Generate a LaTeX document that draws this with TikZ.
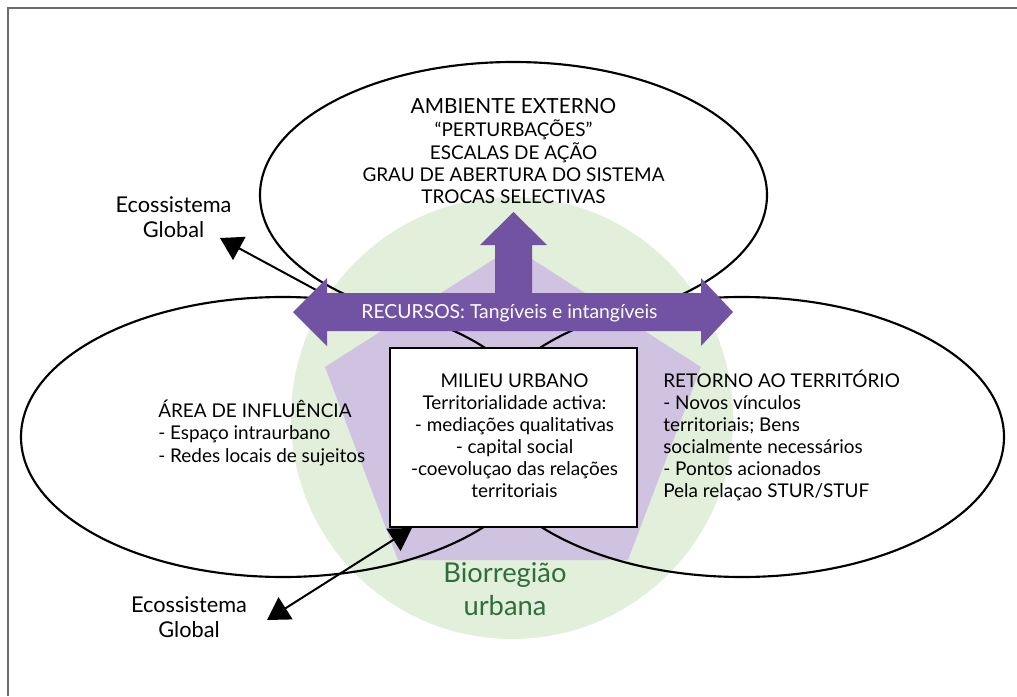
\documentclass[tikz,border=0pt]{standalone}
\usepackage{fontspec}
\setmainfont{Lato}
\usetikzlibrary{arrows.meta}
\definecolor{bgreen}{HTML}{E2EFDA}
\definecolor{lilac}{HTML}{D0C3E1}
\definecolor{purp}{HTML}{7253A3}
\definecolor{dgreen}{HTML}{2E6E3A}
\definecolor{framegray}{HTML}{6B6B6B}
\newcommand\myst{\rule{0pt}{14pt}}
\newcommand\mybigst{\rule{0pt}{18pt}}
\begin{document}
\begin{tikzpicture}[x=0.75pt,y=-0.75pt,
  oval/.style={draw=black, line width=1.6pt},
  txt/.style={inner sep=0pt, font=\fontsize{14.2}{16.6}\selectfont},
  ecotxt/.style={inner sep=0pt, anchor=north, align=center, font=\fontsize{16.3}{18.75}\selectfont},
  blackarrow/.style={draw=black, line width=1.5pt, -{Triangle[length=16.5pt,width=19.5pt]}},
  dblarrow/.style={draw=black, line width=1.5pt, {Triangle[length=16.5pt,width=19.5pt]}-{Triangle[length=16.5pt,width=19.5pt]}},
]
\useasboundingbox (0,0) rectangle (1017,696);
\draw[framegray, line width=1.2pt] (8,696) -- (8,8) -- (1017,8);
% bioregion circle and pentagon
\fill[bgreen] (512,418) circle [radius=221];
\fill[lilac] (513,247) -- (701,367) -- (628,560) -- (398,560) -- (325,367) -- cycle;
% ellipses
\draw[oval] (513.5,195) ellipse [x radius=253.5, y radius=133];
\draw[oval] (283,437) ellipse [x radius=262, y radius=140];
\draw[oval] (742,437) ellipse [x radius=262, y radius=140];
% black arrows
\coordinate (a1s) at (318,291);
\coordinate (a1t) at (220,238);
\coordinate (a2s) at (267,620);
\coordinate (a2t) at (412,528);
\draw[blackarrow] (a1s) -- (a1t);
\draw[dblarrow] (a2s) -- (a2t);
% purple resources arrow
\fill[purp] (293,312) -- (327,278) -- (327,293) -- (495,293) -- (495,245) -- (480,245)
  -- (513.5,212) -- (547,245) -- (532,245) -- (532,293) -- (701,293) -- (701,278)
  -- (733,312) -- (701,346) -- (701,331) -- (327,331) -- (327,346) -- cycle;
\node[txt, anchor=base, text=white, font=\fontsize{14.5}{16.6}\selectfont] (rec) at (509.5,318) {RECURSOS: Tangíveis e intangíveis};
% milieu box
\node[draw=black, line width=1.8pt, fill=white, minimum width=185.25pt, minimum height=134.25pt, inner sep=0pt] (milieu) at (513.5,437.5) {};
\node[txt, anchor=north, align=center] (miltxt) at (514.5,368.3) {\myst MILIEU URBANO\\Territorialidade activa:\\- mediações qualitativas\\- capital social\\-coevoluçao das relações\\territoriais};
% texts
\node[txt, anchor=north, align=center, font=\fontsize{14.2}{16.7}\selectfont] (amb) at (513.5,94.3) {\myst{\fontsize{15.6}{16.7}\selectfont AMBIENTE EXTERNO}\\[1pt]“PERTURBAÇÕES”\\ESCALAS DE AÇÃO\\GRAU DE ABERTURA DO SISTEMA\\TROCAS SELECTIVAS};
\node[txt, anchor=north west, align=left, font=\fontsize{14.2}{16.9}\selectfont] (area) at (158,398.3) {\myst ÁREA DE INFLUÊNCIA\\- Espaço intraurbano\\- Redes locais de sujeitos};
\node[txt, anchor=north west, align=left, font=\fontsize{14.2}{16.5}\selectfont] (ret) at (663,368.3) {\myst RETORNO AO TERRITÓRIO\\- Novos vínculos\\territoriais; Bens\\socialmente necessários\\- Pontos acionados\\Pela relaçao STUR/STUF};
\node[ecotxt] (eco1) at (173.5,193.3) {\myst Ecossistema\\Global};
\node[ecotxt] (eco2) at (189,593.3) {\myst Ecossistema\\Global};
\node[inner sep=0pt, anchor=north, align=center, text=dgreen, font=\fontsize{20.5}{24.75}\selectfont] (bio) at (505,558) {\mybigst Biorregião\\urbana};
\end{tikzpicture}
\end{document}
